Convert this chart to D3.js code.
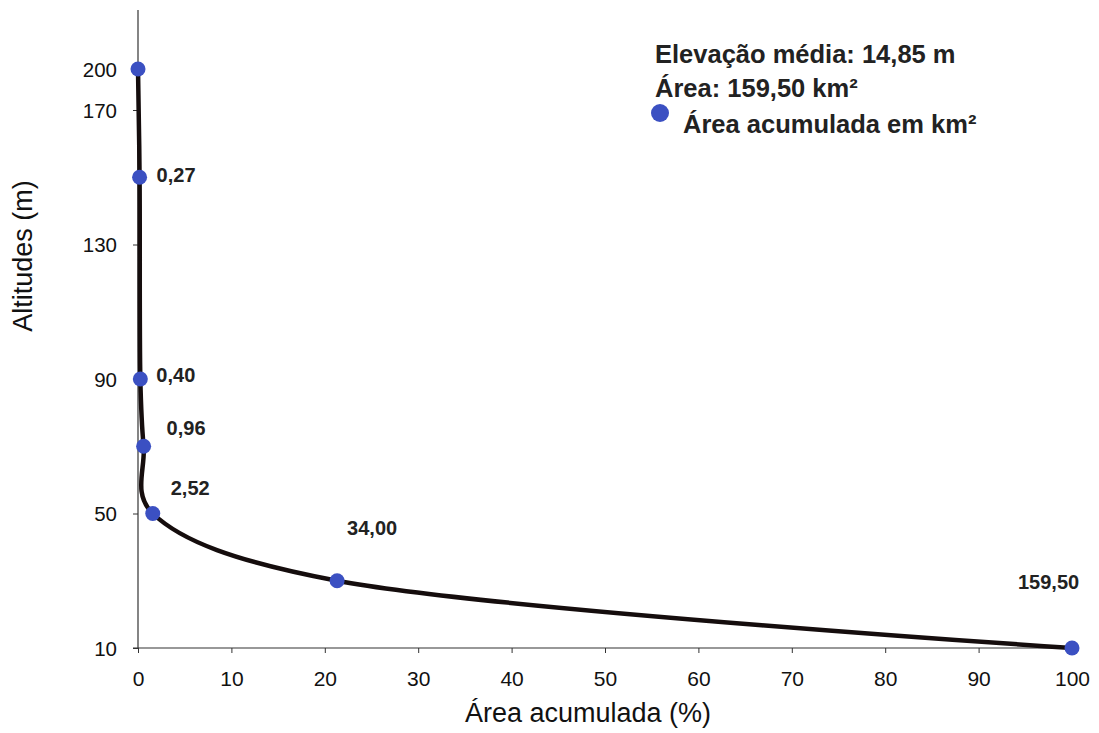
<!DOCTYPE html>
<html>
<head>
<meta charset="utf-8">
<script src="https://cdn.jsdelivr.net/npm/d3@7"></script>
<style>
  html, body { margin: 0; padding: 0; background: #fff; }
  svg { display: block; }
  text { font-family: "Liberation Sans", Arial, sans-serif; }
</style>
</head>
<body>
<svg id="chart" width="1099" height="733"></svg>
<script>
// Hypsometric curve: altitude vs. accumulated drainage area
const altitudes = [200, 150, 90, 70, 50, 30, 10];               // m
const areaKm2   = [0, 0.27, 0.40, 0.96, 2.52, 34.00, 159.50];   // accumulated area, km²
const totalArea = 159.50;
const yTicks = [10, 50, 90, 130, 170, 200];
const xTicks = [0, 10, 20, 30, 40, 50, 60, 70, 80, 90, 100];
const legendLines = ["Elevação média: 14,85 m", "Área: 159,50 km²"];
const legendSeries = "Área acumulada em km²";

// label placement relative to each point (layout only)
const labelDx = [0, 17, 16, 23, 18, 10, -54];
const labelDy = [0, -2, -4, -18, -26, -53, -66];

const fmt = v => v.toFixed(2).replace(".", ",");

const points = altitudes.map((a, i) => ({
  alt: a, km2: areaKm2[i], pct: areaKm2[i] / totalArea * 100, i
}));

const svg = d3.select("#chart");
const plot = { left: 138, right: 1072, top: 10, bottom: 648 };

const x = d3.scaleLinear().domain([0, 100]).range([plot.left, plot.right]);
// the top class (200 m) is compressed onto the upper part of the axis
const y = d3.scaleLinear().domain([10, 170, 200]).range([plot.bottom, 110, 69]);

const axisColor = "#333";

// y axis
const yAxis = svg.append("g").attr("transform", `translate(${plot.left},0)`)
  .call(d3.axisLeft(y).tickValues(yTicks).tickSize(5).tickPadding(16).tickFormat(d3.format("d")));
yAxis.select(".domain").remove();
yAxis.selectAll("line").attr("stroke", axisColor);
yAxis.selectAll("text").attr("font-size", 20.5).attr("fill", "#111").attr("dy", "0.36em");
svg.append("line")
  .attr("x1", plot.left).attr("x2", plot.left)
  .attr("y1", plot.top).attr("y2", plot.bottom)
  .attr("stroke", axisColor).attr("stroke-width", 1.2);

// x axis
const xAxis = svg.append("g").attr("transform", `translate(0,${plot.bottom})`)
  .call(d3.axisBottom(x).tickValues(xTicks).tickSize(5).tickPadding(18));
xAxis.select(".domain").remove();
xAxis.selectAll("line").attr("stroke", axisColor);
xAxis.selectAll("text").attr("font-size", 21).attr("fill", "#111");
svg.append("line")
  .attr("x1", plot.left - 5).attr("x2", plot.right)
  .attr("y1", plot.bottom).attr("y2", plot.bottom)
  .attr("stroke", axisColor).attr("stroke-width", 1.2);

// axis titles
svg.append("text")
  .attr("x", 588).attr("y", 722)
  .attr("text-anchor", "middle").attr("font-size", 27).attr("fill", "#111")
  .text("Área acumulada (%)");
svg.append("text")
  .attr("transform", "translate(32,256) rotate(-90)")
  .attr("text-anchor", "middle").attr("font-size", 27).attr("fill", "#111")
  .text("Altitudes (m)");

// smoothed curve
const line = d3.line()
  .x(d => x(d.pct)).y(d => y(d.alt))
  .curve(d3.curveCatmullRom.alpha(0.3));
svg.append("path")
  .datum(points)
  .attr("d", line)
  .attr("fill", "none")
  .attr("stroke", "#150d0d")
  .attr("stroke-width", 4.5)
  .attr("stroke-linejoin", "round");

// points
svg.append("g").selectAll("circle")
  .data(points).join("circle")
  .attr("cx", d => x(d.pct)).attr("cy", d => y(d.alt))
  .attr("r", 7.5).attr("fill", "#3b50c2");

// value labels (accumulated km²)
svg.append("g").selectAll("text")
  .data(points.filter(d => d.km2 > 0)).join("text")
  .attr("x", d => x(d.pct) + labelDx[d.i])
  .attr("y", d => y(d.alt) + labelDy[d.i])
  .attr("dy", "0.36em")
  .attr("font-size", 20).attr("font-weight", "bold").attr("fill", "#222")
  .text(d => fmt(d.km2));

// legend
const lg = svg.append("g");
legendLines.forEach((t, i) => {
  lg.append("text").attr("x", 655).attr("y", 63 + i * 34)
    .attr("font-size", 25.5).attr("font-weight", "bold").attr("fill", "#222").text(t);
});
lg.append("circle").attr("cx", 660).attr("cy", 113).attr("r", 9).attr("fill", "#3b50c2");
lg.append("text").attr("x", 683).attr("y", 133)
  .attr("font-size", 25.5).attr("font-weight", "bold").attr("fill", "#222").text(legendSeries);
</script>
</body>
</html>
